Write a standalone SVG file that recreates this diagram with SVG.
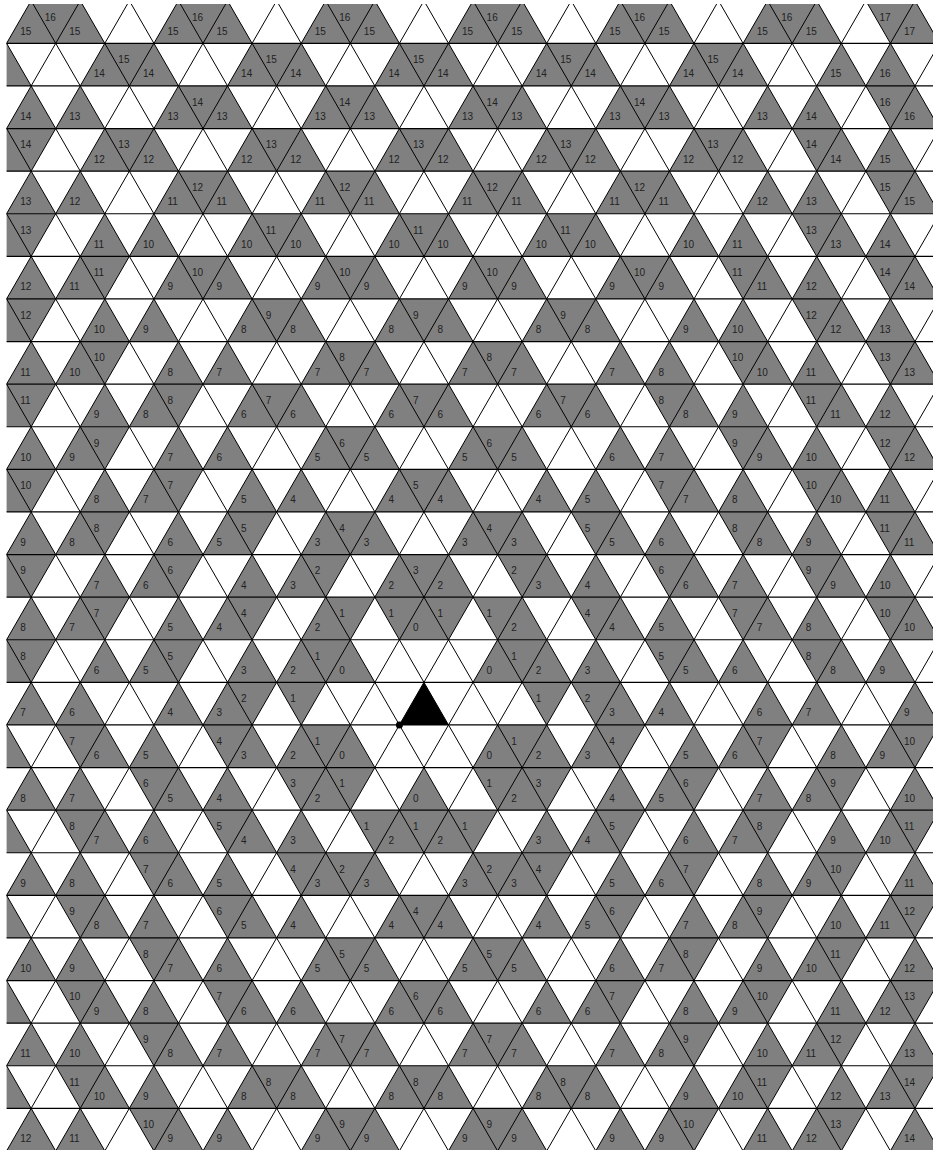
<svg xmlns="http://www.w3.org/2000/svg" xmlns:xlink="http://www.w3.org/1999/xlink" width="933" height="1150" viewBox="0 0 933 1150">
<style>
.g{fill:#808080;stroke:none}
.ln{fill:none;stroke:#000;stroke-width:1}
.hl{fill:none;stroke:#000;stroke-width:1.2}
.t{font-family:"Liberation Sans",Arial,sans-serif;font-size:10px;fill:#222}
</style>
<defs>
<clipPath id="clip"><rect x="6.6" y="4" width="927" height="1147"/></clipPath>
<path id="rowA" class="g" d="M31.15,0l24.55,42.6h-49.1zM80.25,0l24.55,42.6h-49.1zM178.45,0l24.55,42.6h-49.1zM178.45,0h49.1l-24.55,42.6zM227.55,0l24.55,42.6h-49.1zM325.75,0l24.55,42.6h-49.1zM325.75,0h49.1l-24.55,42.6zM374.85,0l24.55,42.6h-49.1zM473.05,0l24.55,42.6h-49.1zM473.05,0h49.1l-24.55,42.6zM522.15,0l24.55,42.6h-49.1zM620.35,0l24.55,42.6h-49.1zM620.35,0h49.1l-24.55,42.6zM669.45,0l24.55,42.6h-49.1zM767.65,0l24.55,42.6h-49.1zM816.75,0l24.55,42.6h-49.1zM865.85,0h49.1l-24.55,42.6zM914.95,0l24.55,42.6h-49.1z"/>
<path id="rowB" class="g" d="M6.6,0l24.55,42.6h-49.1zM6.6,0h49.1l-24.55,42.6zM104.8,0l24.55,42.6h-49.1zM153.9,0l24.55,42.6h-49.1zM252.1,0l24.55,42.6h-49.1zM252.1,0h49.1l-24.55,42.6zM301.2,0l24.55,42.6h-49.1zM399.4,0l24.55,42.6h-49.1zM399.4,0h49.1l-24.55,42.6zM448.5,0l24.55,42.6h-49.1zM546.7,0l24.55,42.6h-49.1zM546.7,0h49.1l-24.55,42.6zM595.8,0l24.55,42.6h-49.1zM694,0l24.55,42.6h-49.1zM743.1,0l24.55,42.6h-49.1zM792.2,0h49.1l-24.55,42.6zM841.3,0l24.55,42.6h-49.1zM890.4,0l24.55,42.6h-49.1z"/>
<path id="rowC" class="g" d="M31.15,0l24.55,42.6h-49.1zM80.25,0l24.55,42.6h-49.1zM80.25,0h49.1l-24.55,42.6zM178.45,0l24.55,42.6h-49.1zM227.55,0l24.55,42.6h-49.1zM325.75,0l24.55,42.6h-49.1zM325.75,0h49.1l-24.55,42.6zM374.85,0l24.55,42.6h-49.1zM473.05,0l24.55,42.6h-49.1zM473.05,0h49.1l-24.55,42.6zM522.15,0l24.55,42.6h-49.1zM620.35,0l24.55,42.6h-49.1zM669.45,0l24.55,42.6h-49.1zM718.55,0h49.1l-24.55,42.6zM767.65,0l24.55,42.6h-49.1zM816.75,0l24.55,42.6h-49.1zM865.85,0h49.1l-24.55,42.6zM914.95,0l24.55,42.6h-49.1z"/>
<path id="rowD" class="g" d="M6.6,0l24.55,42.6h-49.1zM55.7,0h49.1l-24.55,42.6zM104.8,0l24.55,42.6h-49.1zM153.9,0l24.55,42.6h-49.1zM203,0h49.1l-24.55,42.6zM252.1,0l24.55,42.6h-49.1zM301.2,0l24.55,42.6h-49.1zM399.4,0l24.55,42.6h-49.1zM399.4,0h49.1l-24.55,42.6zM448.5,0l24.55,42.6h-49.1zM546.7,0l24.55,42.6h-49.1zM595.8,0l24.55,42.6h-49.1zM595.8,0h49.1l-24.55,42.6zM694,0l24.55,42.6h-49.1zM743.1,0l24.55,42.6h-49.1zM743.1,0h49.1l-24.55,42.6zM841.3,0l24.55,42.6h-49.1zM890.4,0l24.55,42.6h-49.1zM890.4,0h49.1l-24.55,42.6z"/>
<path id="rowE" class="g" d="M31.15,0l24.55,42.6h-49.1zM80.25,0l24.55,42.6h-49.1zM129.35,0h49.1l-24.55,42.6zM178.45,0l24.55,42.6h-49.1zM227.55,0l24.55,42.6h-49.1zM325.75,0l24.55,42.6h-49.1zM325.75,0h49.1l-24.55,42.6zM374.85,0l24.55,42.6h-49.1zM473.05,0l24.55,42.6h-49.1zM473.05,0h49.1l-24.55,42.6zM522.15,0l24.55,42.6h-49.1zM620.35,0l24.55,42.6h-49.1zM669.45,0l24.55,42.6h-49.1zM669.45,0h49.1l-24.55,42.6zM767.65,0l24.55,42.6h-49.1zM816.75,0l24.55,42.6h-49.1zM816.75,0h49.1l-24.55,42.6zM914.95,0l24.55,42.6h-49.1z"/>
</defs>
<rect width="933" height="1150" fill="#fff"/>
<g clip-path="url(#clip)">
<g id="fills">
<path class="g" transform="translate(0,0.73)" d="M31.15,0l24.55,42.6h-49.1zM31.15,0h49.1l-24.55,42.6zM80.25,0l24.55,42.6h-49.1zM178.45,0l24.55,42.6h-49.1zM178.45,0h49.1l-24.55,42.6zM227.55,0l24.55,42.6h-49.1zM325.75,0l24.55,42.6h-49.1zM325.75,0h49.1l-24.55,42.6zM374.85,0l24.55,42.6h-49.1zM473.05,0l24.55,42.6h-49.1zM473.05,0h49.1l-24.55,42.6zM522.15,0l24.55,42.6h-49.1zM620.35,0l24.55,42.6h-49.1zM620.35,0h49.1l-24.55,42.6zM669.45,0l24.55,42.6h-49.1zM767.65,0l24.55,42.6h-49.1zM767.65,0h49.1l-24.55,42.6zM816.75,0l24.55,42.6h-49.1zM865.85,0h49.1l-24.55,42.6zM914.95,0l24.55,42.6h-49.1z"/>
<path class="g" transform="translate(0,43.33)" d="M6.6,0l24.55,42.6h-49.1zM104.8,0l24.55,42.6h-49.1zM104.8,0h49.1l-24.55,42.6zM153.9,0l24.55,42.6h-49.1zM252.1,0l24.55,42.6h-49.1zM252.1,0h49.1l-24.55,42.6zM301.2,0l24.55,42.6h-49.1zM399.4,0l24.55,42.6h-49.1zM399.4,0h49.1l-24.55,42.6zM448.5,0l24.55,42.6h-49.1zM546.7,0l24.55,42.6h-49.1zM546.7,0h49.1l-24.55,42.6zM595.8,0l24.55,42.6h-49.1zM694,0l24.55,42.6h-49.1zM694,0h49.1l-24.55,42.6zM743.1,0l24.55,42.6h-49.1zM841.3,0l24.55,42.6h-49.1zM890.4,0l24.55,42.6h-49.1z"/>
<use href="#rowA" xlink:href="#rowA" y="85.93"/>
<path class="g" transform="translate(0,128.53)" d="M6.6,0l24.55,42.6h-49.1zM6.6,0h49.1l-24.55,42.6zM104.8,0l24.55,42.6h-49.1zM104.8,0h49.1l-24.55,42.6zM153.9,0l24.55,42.6h-49.1zM252.1,0l24.55,42.6h-49.1zM252.1,0h49.1l-24.55,42.6zM301.2,0l24.55,42.6h-49.1zM399.4,0l24.55,42.6h-49.1zM399.4,0h49.1l-24.55,42.6zM448.5,0l24.55,42.6h-49.1zM546.7,0l24.55,42.6h-49.1zM546.7,0h49.1l-24.55,42.6zM595.8,0l24.55,42.6h-49.1zM694,0l24.55,42.6h-49.1zM694,0h49.1l-24.55,42.6zM743.1,0l24.55,42.6h-49.1zM792.2,0h49.1l-24.55,42.6zM841.3,0l24.55,42.6h-49.1zM890.4,0l24.55,42.6h-49.1z"/>
<use href="#rowA" xlink:href="#rowA" y="171.13"/>
<use href="#rowB" xlink:href="#rowB" y="213.73"/>
<path class="g" transform="translate(0,256.33)" d="M31.15,0l24.55,42.6h-49.1zM80.25,0l24.55,42.6h-49.1zM80.25,0h49.1l-24.55,42.6zM178.45,0l24.55,42.6h-49.1zM178.45,0h49.1l-24.55,42.6zM227.55,0l24.55,42.6h-49.1zM325.75,0l24.55,42.6h-49.1zM325.75,0h49.1l-24.55,42.6zM374.85,0l24.55,42.6h-49.1zM473.05,0l24.55,42.6h-49.1zM473.05,0h49.1l-24.55,42.6zM522.15,0l24.55,42.6h-49.1zM620.35,0l24.55,42.6h-49.1zM620.35,0h49.1l-24.55,42.6zM669.45,0l24.55,42.6h-49.1zM718.55,0h49.1l-24.55,42.6zM767.65,0l24.55,42.6h-49.1zM816.75,0l24.55,42.6h-49.1zM865.85,0h49.1l-24.55,42.6zM914.95,0l24.55,42.6h-49.1z"/>
<use href="#rowB" xlink:href="#rowB" y="298.93"/>
<use href="#rowC" xlink:href="#rowC" y="341.53"/>
<path class="g" transform="translate(0,384.13)" d="M6.6,0l24.55,42.6h-49.1zM6.6,0h49.1l-24.55,42.6zM104.8,0l24.55,42.6h-49.1zM153.9,0l24.55,42.6h-49.1zM153.9,0h49.1l-24.55,42.6zM252.1,0l24.55,42.6h-49.1zM252.1,0h49.1l-24.55,42.6zM301.2,0l24.55,42.6h-49.1zM399.4,0l24.55,42.6h-49.1zM399.4,0h49.1l-24.55,42.6zM448.5,0l24.55,42.6h-49.1zM546.7,0l24.55,42.6h-49.1zM546.7,0h49.1l-24.55,42.6zM595.8,0l24.55,42.6h-49.1zM644.9,0h49.1l-24.55,42.6zM694,0l24.55,42.6h-49.1zM743.1,0l24.55,42.6h-49.1zM792.2,0h49.1l-24.55,42.6zM841.3,0l24.55,42.6h-49.1zM890.4,0l24.55,42.6h-49.1z"/>
<use href="#rowC" xlink:href="#rowC" y="426.73"/>
<path class="g" transform="translate(0,469.33)" d="M6.6,0l24.55,42.6h-49.1zM6.6,0h49.1l-24.55,42.6zM104.8,0l24.55,42.6h-49.1zM153.9,0l24.55,42.6h-49.1zM153.9,0h49.1l-24.55,42.6zM252.1,0l24.55,42.6h-49.1zM301.2,0l24.55,42.6h-49.1zM399.4,0l24.55,42.6h-49.1zM399.4,0h49.1l-24.55,42.6zM448.5,0l24.55,42.6h-49.1zM546.7,0l24.55,42.6h-49.1zM595.8,0l24.55,42.6h-49.1zM644.9,0h49.1l-24.55,42.6zM694,0l24.55,42.6h-49.1zM743.1,0l24.55,42.6h-49.1zM792.2,0h49.1l-24.55,42.6zM841.3,0l24.55,42.6h-49.1zM890.4,0l24.55,42.6h-49.1z"/>
<path class="g" transform="translate(0,511.93)" d="M31.15,0l24.55,42.6h-49.1zM80.25,0l24.55,42.6h-49.1zM80.25,0h49.1l-24.55,42.6zM178.45,0l24.55,42.6h-49.1zM227.55,0l24.55,42.6h-49.1zM227.55,0h49.1l-24.55,42.6zM325.75,0l24.55,42.6h-49.1zM325.75,0h49.1l-24.55,42.6zM374.85,0l24.55,42.6h-49.1zM473.05,0l24.55,42.6h-49.1zM473.05,0h49.1l-24.55,42.6zM522.15,0l24.55,42.6h-49.1zM571.25,0h49.1l-24.55,42.6zM620.35,0l24.55,42.6h-49.1zM669.45,0l24.55,42.6h-49.1zM718.55,0h49.1l-24.55,42.6zM767.65,0l24.55,42.6h-49.1zM816.75,0l24.55,42.6h-49.1zM865.85,0h49.1l-24.55,42.6zM914.95,0l24.55,42.6h-49.1z"/>
<path class="g" transform="translate(0,554.53)" d="M6.6,0l24.55,42.6h-49.1zM6.6,0h49.1l-24.55,42.6zM104.8,0l24.55,42.6h-49.1zM153.9,0l24.55,42.6h-49.1zM153.9,0h49.1l-24.55,42.6zM252.1,0l24.55,42.6h-49.1zM301.2,0l24.55,42.6h-49.1zM301.2,0h49.1l-24.55,42.6zM399.4,0l24.55,42.6h-49.1zM399.4,0h49.1l-24.55,42.6zM448.5,0l24.55,42.6h-49.1zM497.6,0h49.1l-24.55,42.6zM546.7,0l24.55,42.6h-49.1zM595.8,0l24.55,42.6h-49.1zM644.9,0h49.1l-24.55,42.6zM694,0l24.55,42.6h-49.1zM743.1,0l24.55,42.6h-49.1zM792.2,0h49.1l-24.55,42.6zM841.3,0l24.55,42.6h-49.1zM890.4,0l24.55,42.6h-49.1z"/>
<path class="g" transform="translate(0,597.13)" d="M31.15,0l24.55,42.6h-49.1zM80.25,0l24.55,42.6h-49.1zM80.25,0h49.1l-24.55,42.6zM178.45,0l24.55,42.6h-49.1zM227.55,0l24.55,42.6h-49.1zM227.55,0h49.1l-24.55,42.6zM325.75,0l24.55,42.6h-49.1zM325.75,0h49.1l-24.55,42.6zM374.85,0h49.1l-24.55,42.6zM423.95,0l24.55,42.6h-49.1zM423.95,0h49.1l-24.55,42.6zM473.05,0h49.1l-24.55,42.6zM522.15,0l24.55,42.6h-49.1zM571.25,0h49.1l-24.55,42.6zM620.35,0l24.55,42.6h-49.1zM669.45,0l24.55,42.6h-49.1zM718.55,0h49.1l-24.55,42.6zM767.65,0l24.55,42.6h-49.1zM816.75,0l24.55,42.6h-49.1zM865.85,0h49.1l-24.55,42.6zM914.95,0l24.55,42.6h-49.1z"/>
<path class="g" transform="translate(0,639.73)" d="M6.6,0l24.55,42.6h-49.1zM6.6,0h49.1l-24.55,42.6zM104.8,0l24.55,42.6h-49.1zM153.9,0l24.55,42.6h-49.1zM153.9,0h49.1l-24.55,42.6zM252.1,0l24.55,42.6h-49.1zM301.2,0l24.55,42.6h-49.1zM301.2,0h49.1l-24.55,42.6zM350.3,0l24.55,42.6h-49.1zM497.6,0l24.55,42.6h-49.1zM497.6,0h49.1l-24.55,42.6zM546.7,0l24.55,42.6h-49.1zM595.8,0l24.55,42.6h-49.1zM644.9,0h49.1l-24.55,42.6zM694,0l24.55,42.6h-49.1zM743.1,0l24.55,42.6h-49.1zM792.2,0h49.1l-24.55,42.6zM841.3,0l24.55,42.6h-49.1zM890.4,0l24.55,42.6h-49.1z"/>
<path class="g" transform="translate(0,682.33)" d="M31.15,0l24.55,42.6h-49.1zM80.25,0l24.55,42.6h-49.1zM178.45,0l24.55,42.6h-49.1zM227.55,0l24.55,42.6h-49.1zM227.55,0h49.1l-24.55,42.6zM276.65,0h49.1l-24.55,42.6zM522.15,0h49.1l-24.55,42.6zM571.25,0h49.1l-24.55,42.6zM620.35,0l24.55,42.6h-49.1zM669.45,0l24.55,42.6h-49.1zM767.65,0l24.55,42.6h-49.1zM816.75,0l24.55,42.6h-49.1zM914.95,0l24.55,42.6h-49.1z"/>
<path class="g" transform="translate(0,724.93)" d="M6.6,0l24.55,42.6h-49.1zM55.7,0h49.1l-24.55,42.6zM104.8,0l24.55,42.6h-49.1zM153.9,0l24.55,42.6h-49.1zM203,0h49.1l-24.55,42.6zM252.1,0l24.55,42.6h-49.1zM301.2,0l24.55,42.6h-49.1zM301.2,0h49.1l-24.55,42.6zM350.3,0l24.55,42.6h-49.1zM497.6,0l24.55,42.6h-49.1zM497.6,0h49.1l-24.55,42.6zM546.7,0l24.55,42.6h-49.1zM595.8,0l24.55,42.6h-49.1zM595.8,0h49.1l-24.55,42.6zM694,0l24.55,42.6h-49.1zM743.1,0l24.55,42.6h-49.1zM743.1,0h49.1l-24.55,42.6zM841.3,0l24.55,42.6h-49.1zM890.4,0l24.55,42.6h-49.1zM890.4,0h49.1l-24.55,42.6z"/>
<path class="g" transform="translate(0,767.53)" d="M31.15,0l24.55,42.6h-49.1zM80.25,0l24.55,42.6h-49.1zM129.35,0h49.1l-24.55,42.6zM178.45,0l24.55,42.6h-49.1zM227.55,0l24.55,42.6h-49.1zM276.65,0h49.1l-24.55,42.6zM325.75,0l24.55,42.6h-49.1zM325.75,0h49.1l-24.55,42.6zM423.95,0l24.55,42.6h-49.1zM473.05,0h49.1l-24.55,42.6zM522.15,0l24.55,42.6h-49.1zM522.15,0h49.1l-24.55,42.6zM620.35,0l24.55,42.6h-49.1zM669.45,0l24.55,42.6h-49.1zM669.45,0h49.1l-24.55,42.6zM767.65,0l24.55,42.6h-49.1zM816.75,0l24.55,42.6h-49.1zM816.75,0h49.1l-24.55,42.6zM914.95,0l24.55,42.6h-49.1z"/>
<path class="g" transform="translate(0,810.13)" d="M6.6,0l24.55,42.6h-49.1zM55.7,0h49.1l-24.55,42.6zM104.8,0l24.55,42.6h-49.1zM153.9,0l24.55,42.6h-49.1zM203,0h49.1l-24.55,42.6zM252.1,0l24.55,42.6h-49.1zM301.2,0l24.55,42.6h-49.1zM350.3,0h49.1l-24.55,42.6zM399.4,0l24.55,42.6h-49.1zM399.4,0h49.1l-24.55,42.6zM448.5,0l24.55,42.6h-49.1zM448.5,0h49.1l-24.55,42.6zM546.7,0l24.55,42.6h-49.1zM595.8,0l24.55,42.6h-49.1zM595.8,0h49.1l-24.55,42.6zM694,0l24.55,42.6h-49.1zM743.1,0l24.55,42.6h-49.1zM743.1,0h49.1l-24.55,42.6zM841.3,0l24.55,42.6h-49.1zM890.4,0l24.55,42.6h-49.1zM890.4,0h49.1l-24.55,42.6z"/>
<path class="g" transform="translate(0,852.73)" d="M31.15,0l24.55,42.6h-49.1zM80.25,0l24.55,42.6h-49.1zM129.35,0h49.1l-24.55,42.6zM178.45,0l24.55,42.6h-49.1zM227.55,0l24.55,42.6h-49.1zM276.65,0h49.1l-24.55,42.6zM325.75,0l24.55,42.6h-49.1zM325.75,0h49.1l-24.55,42.6zM374.85,0l24.55,42.6h-49.1zM473.05,0l24.55,42.6h-49.1zM473.05,0h49.1l-24.55,42.6zM522.15,0l24.55,42.6h-49.1zM522.15,0h49.1l-24.55,42.6zM620.35,0l24.55,42.6h-49.1zM669.45,0l24.55,42.6h-49.1zM669.45,0h49.1l-24.55,42.6zM767.65,0l24.55,42.6h-49.1zM816.75,0l24.55,42.6h-49.1zM816.75,0h49.1l-24.55,42.6zM914.95,0l24.55,42.6h-49.1z"/>
<use href="#rowD" xlink:href="#rowD" y="895.33"/>
<use href="#rowE" xlink:href="#rowE" y="937.93"/>
<use href="#rowD" xlink:href="#rowD" y="980.53"/>
<use href="#rowE" xlink:href="#rowE" y="1023.13"/>
<path class="g" transform="translate(0,1065.73)" d="M6.6,0l24.55,42.6h-49.1zM55.7,0h49.1l-24.55,42.6zM104.8,0l24.55,42.6h-49.1zM153.9,0l24.55,42.6h-49.1zM252.1,0l24.55,42.6h-49.1zM252.1,0h49.1l-24.55,42.6zM301.2,0l24.55,42.6h-49.1zM399.4,0l24.55,42.6h-49.1zM399.4,0h49.1l-24.55,42.6zM448.5,0l24.55,42.6h-49.1zM546.7,0l24.55,42.6h-49.1zM546.7,0h49.1l-24.55,42.6zM595.8,0l24.55,42.6h-49.1zM694,0l24.55,42.6h-49.1zM743.1,0l24.55,42.6h-49.1zM743.1,0h49.1l-24.55,42.6zM841.3,0l24.55,42.6h-49.1zM890.4,0l24.55,42.6h-49.1zM890.4,0h49.1l-24.55,42.6z"/>
<use href="#rowE" xlink:href="#rowE" y="1108.33"/>
<path id="center" fill="#000" d="M423.95,682.33l24.55,42.6h-49.1z"/>
</g>
<g id="grid">
<path class="hl" d="M0,0.73h933M0,43.33h933M0,85.93h933M0,128.53h933M0,171.13h933M0,213.73h933M0,256.33h933M0,298.93h933M0,341.53h933M0,384.13h933M0,426.73h933M0,469.33h933M0,511.93h933M0,554.53h933M0,597.13h933M0,639.73h933M0,682.33h933M0,724.93h933M0,767.53h933M0,810.13h933M0,852.73h933M0,895.33h933M0,937.93h933M0,980.53h933M0,1023.13h933M0,1065.73h933M0,1108.33h933M0,1150.93h933"/>
<path class="ln" d="M31.15,0.73l-662.85,1150.2M80.25,0.73l-662.85,1150.2M129.35,0.73l-662.85,1150.2M178.45,0.73l-662.85,1150.2M227.55,0.73l-662.85,1150.2M276.65,0.73l-662.85,1150.2M325.75,0.73l-662.85,1150.2M374.85,0.73l-662.85,1150.2M423.95,0.73l-662.85,1150.2M473.05,0.73l-662.85,1150.2M522.15,0.73l-662.85,1150.2M571.25,0.73l-662.85,1150.2M620.35,0.73l-662.85,1150.2M669.45,0.73l-662.85,1150.2M718.55,0.73l-662.85,1150.2M767.65,0.73l-662.85,1150.2M816.75,0.73l-662.85,1150.2M865.85,0.73l-662.85,1150.2M914.95,0.73l-662.85,1150.2M964.05,0.73l-662.85,1150.2M1013.15,0.73l-662.85,1150.2M1062.25,0.73l-662.85,1150.2M1111.35,0.73l-662.85,1150.2M1160.45,0.73l-662.85,1150.2M1209.55,0.73l-662.85,1150.2M1258.65,0.73l-662.85,1150.2M1307.75,0.73l-662.85,1150.2M1356.85,0.73l-662.85,1150.2M1405.95,0.73l-662.85,1150.2M1455.05,0.73l-662.85,1150.2M1504.15,0.73l-662.85,1150.2M1553.25,0.73l-662.85,1150.2M1602.35,0.73l-662.85,1150.2"/>
<path class="ln" d="M-656.25,0.73l662.85,1150.2M-607.15,0.73l662.85,1150.2M-558.05,0.73l662.85,1150.2M-508.95,0.73l662.85,1150.2M-459.85,0.73l662.85,1150.2M-410.75,0.73l662.85,1150.2M-361.65,0.73l662.85,1150.2M-312.55,0.73l662.85,1150.2M-263.45,0.73l662.85,1150.2M-214.35,0.73l662.85,1150.2M-165.25,0.73l662.85,1150.2M-116.15,0.73l662.85,1150.2M-67.05,0.73l662.85,1150.2M-17.95,0.73l662.85,1150.2M31.15,0.73l662.85,1150.2M80.25,0.73l662.85,1150.2M129.35,0.73l662.85,1150.2M178.45,0.73l662.85,1150.2M227.55,0.73l662.85,1150.2M276.65,0.73l662.85,1150.2M325.75,0.73l662.85,1150.2M374.85,0.73l662.85,1150.2M423.95,0.73l662.85,1150.2M473.05,0.73l662.85,1150.2M522.15,0.73l662.85,1150.2M571.25,0.73l662.85,1150.2M620.35,0.73l662.85,1150.2M669.45,0.73l662.85,1150.2M718.55,0.73l662.85,1150.2M767.65,0.73l662.85,1150.2M816.75,0.73l662.85,1150.2M865.85,0.73l662.85,1150.2M914.95,0.73l662.85,1150.2"/>
</g>
<g id="labels" class="t">
<text y="34.83"><tspan x="20.15">15</tspan><tspan x="69.25">15</tspan><tspan x="167.45">15</tspan><tspan x="216.55">15</tspan><tspan x="314.75">15</tspan><tspan x="363.85">15</tspan><tspan x="462.05">15</tspan><tspan x="511.15">15</tspan><tspan x="609.35">15</tspan><tspan x="658.45">15</tspan><tspan x="756.65">15</tspan><tspan x="805.75">15</tspan><tspan x="903.95">17</tspan></text>
<text y="20.63"><tspan x="44.7">16</tspan><tspan x="192">16</tspan><tspan x="339.3">16</tspan><tspan x="486.6">16</tspan><tspan x="633.9">16</tspan><tspan x="781.2">16</tspan><tspan x="879.4">17</tspan></text>
<text y="77.43"><tspan x="93.8">14</tspan><tspan x="142.9">14</tspan><tspan x="241.1">14</tspan><tspan x="290.2">14</tspan><tspan x="388.4">14</tspan><tspan x="437.5">14</tspan><tspan x="535.7">14</tspan><tspan x="584.8">14</tspan><tspan x="683">14</tspan><tspan x="732.1">14</tspan><tspan x="830.3">15</tspan><tspan x="879.4">16</tspan></text>
<text y="63.23"><tspan x="118.35">15</tspan><tspan x="265.65">15</tspan><tspan x="412.95">15</tspan><tspan x="560.25">15</tspan><tspan x="707.55">15</tspan></text>
<text y="120.03"><tspan x="20.15">14</tspan><tspan x="69.25">13</tspan><tspan x="167.45">13</tspan><tspan x="216.55">13</tspan><tspan x="314.75">13</tspan><tspan x="363.85">13</tspan><tspan x="462.05">13</tspan><tspan x="511.15">13</tspan><tspan x="609.35">13</tspan><tspan x="658.45">13</tspan><tspan x="756.65">13</tspan><tspan x="805.75">14</tspan><tspan x="903.95">16</tspan></text>
<text y="105.83"><tspan x="192">14</tspan><tspan x="339.3">14</tspan><tspan x="486.6">14</tspan><tspan x="633.9">14</tspan><tspan x="879.4">16</tspan></text>
<text y="162.63"><tspan x="93.8">12</tspan><tspan x="142.9">12</tspan><tspan x="241.1">12</tspan><tspan x="290.2">12</tspan><tspan x="388.4">12</tspan><tspan x="437.5">12</tspan><tspan x="535.7">12</tspan><tspan x="584.8">12</tspan><tspan x="683">12</tspan><tspan x="732.1">12</tspan><tspan x="830.3">14</tspan><tspan x="879.4">15</tspan></text>
<text y="148.43"><tspan x="20.15">14</tspan><tspan x="118.35">13</tspan><tspan x="265.65">13</tspan><tspan x="412.95">13</tspan><tspan x="560.25">13</tspan><tspan x="707.55">13</tspan><tspan x="805.75">14</tspan></text>
<text y="205.23"><tspan x="20.15">13</tspan><tspan x="69.25">12</tspan><tspan x="167.45">11</tspan><tspan x="216.55">11</tspan><tspan x="314.75">11</tspan><tspan x="363.85">11</tspan><tspan x="462.05">11</tspan><tspan x="511.15">11</tspan><tspan x="609.35">11</tspan><tspan x="658.45">11</tspan><tspan x="756.65">12</tspan><tspan x="805.75">13</tspan><tspan x="903.95">15</tspan></text>
<text y="191.03"><tspan x="192">12</tspan><tspan x="339.3">12</tspan><tspan x="486.6">12</tspan><tspan x="633.9">12</tspan><tspan x="879.4">15</tspan></text>
<text y="247.83"><tspan x="93.8">11</tspan><tspan x="142.9">10</tspan><tspan x="241.1">10</tspan><tspan x="290.2">10</tspan><tspan x="388.4">10</tspan><tspan x="437.5">10</tspan><tspan x="535.7">10</tspan><tspan x="584.8">10</tspan><tspan x="683">10</tspan><tspan x="732.1">11</tspan><tspan x="830.3">13</tspan><tspan x="879.4">14</tspan></text>
<text y="233.63"><tspan x="20.15">13</tspan><tspan x="265.65">11</tspan><tspan x="412.95">11</tspan><tspan x="560.25">11</tspan><tspan x="805.75">13</tspan></text>
<text y="290.43"><tspan x="20.15">12</tspan><tspan x="69.25">11</tspan><tspan x="167.45">9</tspan><tspan x="216.55">9</tspan><tspan x="314.75">9</tspan><tspan x="363.85">9</tspan><tspan x="462.05">9</tspan><tspan x="511.15">9</tspan><tspan x="609.35">9</tspan><tspan x="658.45">9</tspan><tspan x="756.65">11</tspan><tspan x="805.75">12</tspan><tspan x="903.95">14</tspan></text>
<text y="276.23"><tspan x="93.8">11</tspan><tspan x="192">10</tspan><tspan x="339.3">10</tspan><tspan x="486.6">10</tspan><tspan x="633.9">10</tspan><tspan x="732.1">11</tspan><tspan x="879.4">14</tspan></text>
<text y="333.03"><tspan x="93.8">10</tspan><tspan x="142.9">9</tspan><tspan x="241.1">8</tspan><tspan x="290.2">8</tspan><tspan x="388.4">8</tspan><tspan x="437.5">8</tspan><tspan x="535.7">8</tspan><tspan x="584.8">8</tspan><tspan x="683">9</tspan><tspan x="732.1">10</tspan><tspan x="830.3">12</tspan><tspan x="879.4">13</tspan></text>
<text y="318.83"><tspan x="20.15">12</tspan><tspan x="265.65">9</tspan><tspan x="412.95">9</tspan><tspan x="560.25">9</tspan><tspan x="805.75">12</tspan></text>
<text y="375.63"><tspan x="20.15">11</tspan><tspan x="69.25">10</tspan><tspan x="167.45">8</tspan><tspan x="216.55">7</tspan><tspan x="314.75">7</tspan><tspan x="363.85">7</tspan><tspan x="462.05">7</tspan><tspan x="511.15">7</tspan><tspan x="609.35">7</tspan><tspan x="658.45">8</tspan><tspan x="756.65">10</tspan><tspan x="805.75">11</tspan><tspan x="903.95">13</tspan></text>
<text y="361.43"><tspan x="93.8">10</tspan><tspan x="339.3">8</tspan><tspan x="486.6">8</tspan><tspan x="732.1">10</tspan><tspan x="879.4">13</tspan></text>
<text y="418.23"><tspan x="93.8">9</tspan><tspan x="142.9">8</tspan><tspan x="241.1">6</tspan><tspan x="290.2">6</tspan><tspan x="388.4">6</tspan><tspan x="437.5">6</tspan><tspan x="535.7">6</tspan><tspan x="584.8">6</tspan><tspan x="683">8</tspan><tspan x="732.1">9</tspan><tspan x="830.3">11</tspan><tspan x="879.4">12</tspan></text>
<text y="404.03"><tspan x="20.15">11</tspan><tspan x="167.45">8</tspan><tspan x="265.65">7</tspan><tspan x="412.95">7</tspan><tspan x="560.25">7</tspan><tspan x="658.45">8</tspan><tspan x="805.75">11</tspan></text>
<text y="460.83"><tspan x="20.15">10</tspan><tspan x="69.25">9</tspan><tspan x="167.45">7</tspan><tspan x="216.55">6</tspan><tspan x="314.75">5</tspan><tspan x="363.85">5</tspan><tspan x="462.05">5</tspan><tspan x="511.15">5</tspan><tspan x="609.35">6</tspan><tspan x="658.45">7</tspan><tspan x="756.65">9</tspan><tspan x="805.75">10</tspan><tspan x="903.95">12</tspan></text>
<text y="446.63"><tspan x="93.8">9</tspan><tspan x="339.3">6</tspan><tspan x="486.6">6</tspan><tspan x="732.1">9</tspan><tspan x="879.4">12</tspan></text>
<text y="503.43"><tspan x="93.8">8</tspan><tspan x="142.9">7</tspan><tspan x="241.1">5</tspan><tspan x="290.2">4</tspan><tspan x="388.4">4</tspan><tspan x="437.5">4</tspan><tspan x="535.7">4</tspan><tspan x="584.8">5</tspan><tspan x="683">7</tspan><tspan x="732.1">8</tspan><tspan x="830.3">10</tspan><tspan x="879.4">11</tspan></text>
<text y="489.23"><tspan x="20.15">10</tspan><tspan x="167.45">7</tspan><tspan x="412.95">5</tspan><tspan x="658.45">7</tspan><tspan x="805.75">10</tspan></text>
<text y="546.03"><tspan x="20.15">9</tspan><tspan x="69.25">8</tspan><tspan x="167.45">6</tspan><tspan x="216.55">5</tspan><tspan x="314.75">3</tspan><tspan x="363.85">3</tspan><tspan x="462.05">3</tspan><tspan x="511.15">3</tspan><tspan x="609.35">5</tspan><tspan x="658.45">6</tspan><tspan x="756.65">8</tspan><tspan x="805.75">9</tspan><tspan x="903.95">11</tspan></text>
<text y="531.83"><tspan x="93.8">8</tspan><tspan x="241.1">5</tspan><tspan x="339.3">4</tspan><tspan x="486.6">4</tspan><tspan x="584.8">5</tspan><tspan x="732.1">8</tspan><tspan x="879.4">11</tspan></text>
<text y="588.63"><tspan x="93.8">7</tspan><tspan x="142.9">6</tspan><tspan x="241.1">4</tspan><tspan x="290.2">3</tspan><tspan x="388.4">2</tspan><tspan x="437.5">2</tspan><tspan x="535.7">3</tspan><tspan x="584.8">4</tspan><tspan x="683">6</tspan><tspan x="732.1">7</tspan><tspan x="830.3">9</tspan><tspan x="879.4">10</tspan></text>
<text y="574.43"><tspan x="20.15">9</tspan><tspan x="167.45">6</tspan><tspan x="314.75">2</tspan><tspan x="412.95">3</tspan><tspan x="511.15">2</tspan><tspan x="658.45">6</tspan><tspan x="805.75">9</tspan></text>
<text y="631.23"><tspan x="20.15">8</tspan><tspan x="69.25">7</tspan><tspan x="167.45">5</tspan><tspan x="216.55">4</tspan><tspan x="314.75">2</tspan><tspan x="412.95">0</tspan><tspan x="511.15">2</tspan><tspan x="609.35">4</tspan><tspan x="658.45">5</tspan><tspan x="756.65">7</tspan><tspan x="805.75">8</tspan><tspan x="903.95">10</tspan></text>
<text y="617.03"><tspan x="93.8">7</tspan><tspan x="241.1">4</tspan><tspan x="339.3">1</tspan><tspan x="388.4">1</tspan><tspan x="437.5">1</tspan><tspan x="486.6">1</tspan><tspan x="584.8">4</tspan><tspan x="732.1">7</tspan><tspan x="879.4">10</tspan></text>
<text y="673.83"><tspan x="93.8">6</tspan><tspan x="142.9">5</tspan><tspan x="241.1">3</tspan><tspan x="290.2">2</tspan><tspan x="339.3">0</tspan><tspan x="486.6">0</tspan><tspan x="535.7">2</tspan><tspan x="584.8">3</tspan><tspan x="683">5</tspan><tspan x="732.1">6</tspan><tspan x="830.3">8</tspan><tspan x="879.4">9</tspan></text>
<text y="659.63"><tspan x="20.15">8</tspan><tspan x="167.45">5</tspan><tspan x="314.75">1</tspan><tspan x="511.15">1</tspan><tspan x="658.45">5</tspan><tspan x="805.75">8</tspan></text>
<text y="716.43"><tspan x="20.15">7</tspan><tspan x="69.25">6</tspan><tspan x="167.45">4</tspan><tspan x="216.55">3</tspan><tspan x="609.35">3</tspan><tspan x="658.45">4</tspan><tspan x="756.65">6</tspan><tspan x="805.75">7</tspan><tspan x="903.95">9</tspan></text>
<text y="702.23"><tspan x="241.1">2</tspan><tspan x="290.2">1</tspan><tspan x="535.7">1</tspan><tspan x="584.8">2</tspan></text>
<text y="759.03"><tspan x="93.8">6</tspan><tspan x="142.9">5</tspan><tspan x="241.1">3</tspan><tspan x="290.2">2</tspan><tspan x="339.3">0</tspan><tspan x="486.6">0</tspan><tspan x="535.7">2</tspan><tspan x="584.8">3</tspan><tspan x="683">5</tspan><tspan x="732.1">6</tspan><tspan x="830.3">8</tspan><tspan x="879.4">9</tspan></text>
<text y="744.83"><tspan x="69.25">7</tspan><tspan x="216.55">4</tspan><tspan x="314.75">1</tspan><tspan x="511.15">1</tspan><tspan x="609.35">4</tspan><tspan x="756.65">7</tspan><tspan x="903.95">10</tspan></text>
<text y="801.63"><tspan x="20.15">8</tspan><tspan x="69.25">7</tspan><tspan x="167.45">5</tspan><tspan x="216.55">4</tspan><tspan x="314.75">2</tspan><tspan x="412.95">0</tspan><tspan x="511.15">2</tspan><tspan x="609.35">4</tspan><tspan x="658.45">5</tspan><tspan x="756.65">7</tspan><tspan x="805.75">8</tspan><tspan x="903.95">10</tspan></text>
<text y="787.43"><tspan x="142.9">6</tspan><tspan x="290.2">3</tspan><tspan x="339.3">1</tspan><tspan x="486.6">1</tspan><tspan x="535.7">3</tspan><tspan x="683">6</tspan><tspan x="830.3">9</tspan></text>
<text y="844.23"><tspan x="93.8">7</tspan><tspan x="142.9">6</tspan><tspan x="241.1">4</tspan><tspan x="290.2">3</tspan><tspan x="388.4">2</tspan><tspan x="437.5">2</tspan><tspan x="535.7">3</tspan><tspan x="584.8">4</tspan><tspan x="683">6</tspan><tspan x="732.1">7</tspan><tspan x="830.3">9</tspan><tspan x="879.4">10</tspan></text>
<text y="830.03"><tspan x="69.25">8</tspan><tspan x="216.55">5</tspan><tspan x="363.85">1</tspan><tspan x="412.95">1</tspan><tspan x="462.05">1</tspan><tspan x="609.35">5</tspan><tspan x="756.65">8</tspan><tspan x="903.95">11</tspan></text>
<text y="886.83"><tspan x="20.15">9</tspan><tspan x="69.25">8</tspan><tspan x="167.45">6</tspan><tspan x="216.55">5</tspan><tspan x="314.75">3</tspan><tspan x="363.85">3</tspan><tspan x="462.05">3</tspan><tspan x="511.15">3</tspan><tspan x="609.35">5</tspan><tspan x="658.45">6</tspan><tspan x="756.65">8</tspan><tspan x="805.75">9</tspan><tspan x="903.95">11</tspan></text>
<text y="872.63"><tspan x="142.9">7</tspan><tspan x="290.2">4</tspan><tspan x="339.3">2</tspan><tspan x="486.6">2</tspan><tspan x="535.7">4</tspan><tspan x="683">7</tspan><tspan x="830.3">10</tspan></text>
<text y="929.43"><tspan x="93.8">8</tspan><tspan x="142.9">7</tspan><tspan x="241.1">5</tspan><tspan x="290.2">4</tspan><tspan x="388.4">4</tspan><tspan x="437.5">4</tspan><tspan x="535.7">4</tspan><tspan x="584.8">5</tspan><tspan x="683">7</tspan><tspan x="732.1">8</tspan><tspan x="830.3">10</tspan><tspan x="879.4">11</tspan></text>
<text y="915.23"><tspan x="69.25">9</tspan><tspan x="216.55">6</tspan><tspan x="412.95">4</tspan><tspan x="609.35">6</tspan><tspan x="756.65">9</tspan><tspan x="903.95">12</tspan></text>
<text y="972.03"><tspan x="20.15">10</tspan><tspan x="69.25">9</tspan><tspan x="167.45">7</tspan><tspan x="216.55">6</tspan><tspan x="314.75">5</tspan><tspan x="363.85">5</tspan><tspan x="462.05">5</tspan><tspan x="511.15">5</tspan><tspan x="609.35">6</tspan><tspan x="658.45">7</tspan><tspan x="756.65">9</tspan><tspan x="805.75">10</tspan><tspan x="903.95">12</tspan></text>
<text y="957.83"><tspan x="142.9">8</tspan><tspan x="339.3">5</tspan><tspan x="486.6">5</tspan><tspan x="683">8</tspan><tspan x="830.3">11</tspan></text>
<text y="1014.63"><tspan x="93.8">9</tspan><tspan x="142.9">8</tspan><tspan x="241.1">6</tspan><tspan x="290.2">6</tspan><tspan x="388.4">6</tspan><tspan x="437.5">6</tspan><tspan x="535.7">6</tspan><tspan x="584.8">6</tspan><tspan x="683">8</tspan><tspan x="732.1">9</tspan><tspan x="830.3">11</tspan><tspan x="879.4">12</tspan></text>
<text y="1000.43"><tspan x="69.25">10</tspan><tspan x="216.55">7</tspan><tspan x="412.95">6</tspan><tspan x="609.35">7</tspan><tspan x="756.65">10</tspan><tspan x="903.95">13</tspan></text>
<text y="1057.23"><tspan x="20.15">11</tspan><tspan x="69.25">10</tspan><tspan x="167.45">8</tspan><tspan x="216.55">7</tspan><tspan x="314.75">7</tspan><tspan x="363.85">7</tspan><tspan x="462.05">7</tspan><tspan x="511.15">7</tspan><tspan x="609.35">7</tspan><tspan x="658.45">8</tspan><tspan x="756.65">10</tspan><tspan x="805.75">11</tspan><tspan x="903.95">13</tspan></text>
<text y="1043.03"><tspan x="142.9">9</tspan><tspan x="339.3">7</tspan><tspan x="486.6">7</tspan><tspan x="683">9</tspan><tspan x="830.3">12</tspan></text>
<text y="1099.83"><tspan x="93.8">10</tspan><tspan x="142.9">9</tspan><tspan x="241.1">8</tspan><tspan x="290.2">8</tspan><tspan x="388.4">8</tspan><tspan x="437.5">8</tspan><tspan x="535.7">8</tspan><tspan x="584.8">8</tspan><tspan x="683">9</tspan><tspan x="732.1">10</tspan><tspan x="830.3">12</tspan><tspan x="879.4">13</tspan></text>
<text y="1085.63"><tspan x="69.25">11</tspan><tspan x="265.65">8</tspan><tspan x="412.95">8</tspan><tspan x="560.25">8</tspan><tspan x="756.65">11</tspan><tspan x="903.95">14</tspan></text>
<text y="1142.43"><tspan x="20.15">12</tspan><tspan x="69.25">11</tspan><tspan x="167.45">9</tspan><tspan x="216.55">9</tspan><tspan x="314.75">9</tspan><tspan x="363.85">9</tspan><tspan x="462.05">9</tspan><tspan x="511.15">9</tspan><tspan x="609.35">9</tspan><tspan x="658.45">9</tspan><tspan x="756.65">11</tspan><tspan x="805.75">12</tspan><tspan x="903.95">14</tspan></text>
<text y="1128.23"><tspan x="142.9">10</tspan><tspan x="339.3">9</tspan><tspan x="486.6">9</tspan><tspan x="683">10</tspan><tspan x="830.3">13</tspan></text>
</g>
<circle id="dot" cx="399.4" cy="724.93" r="3.5" fill="#000"/>
</g>
</svg>
